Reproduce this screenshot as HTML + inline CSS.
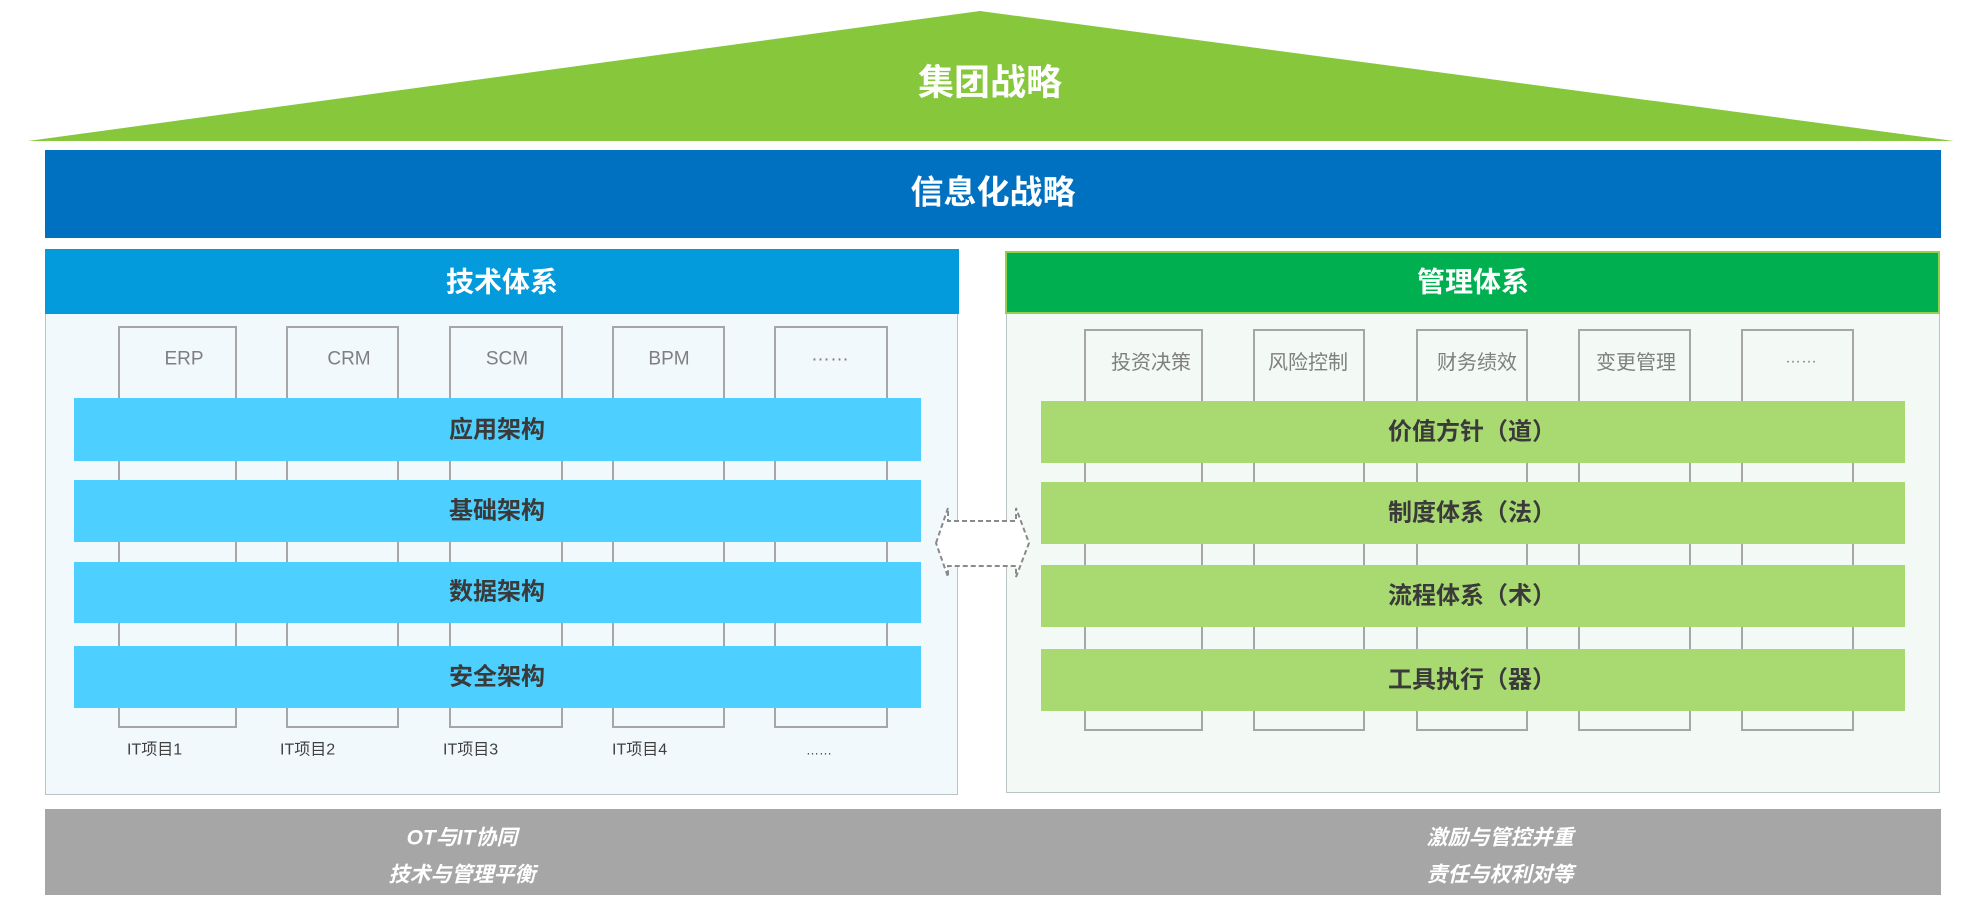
<!DOCTYPE html>
<html>
<head>
<meta charset="utf-8">
<style>
  html,body{margin:0;padding:0;background:#ffffff;}
  body{width:1965px;height:905px;overflow:hidden;}
  svg{display:block;}
  text{font-family:"Liberation Sans","Noto Sans CJK SC",sans-serif;}
</style>
</head>
<body>
<svg width="1965" height="905" viewBox="0 0 1965 905" xmlns="http://www.w3.org/2000/svg">
  <!-- roof triangle -->
  <polygon points="28,141 980,11 1954,141" fill="#86c73b"/>
  <text x="990" y="82" fill="#ffffff" font-size="36" font-weight="bold" text-anchor="middle" dominant-baseline="central">集团战略</text>

  <!-- blue bar -->
  <rect x="45" y="150" width="1896" height="88" fill="#0070c0"/>
  <text x="993" y="192" fill="#ffffff" font-size="33" font-weight="bold" text-anchor="middle" dominant-baseline="central">信息化战略</text>

  <!-- LEFT PANEL -->
  <rect x="45.5" y="249.5" width="912" height="545" fill="#f1f9fd" stroke="#bcc3c6" stroke-width="1"/>
  <rect x="45" y="249" width="914" height="65" fill="#039bdb"/>
  <text x="502" y="282" fill="#ffffff" font-size="28" font-weight="bold" text-anchor="middle" dominant-baseline="central">技术体系</text>

  <!-- left boxes -->
  <g fill="none" stroke="#a6a6a6" stroke-width="2">
    <rect x="119" y="327" width="117" height="400"/>
    <rect x="287" y="327" width="111" height="400"/>
    <rect x="450" y="327" width="112" height="400"/>
    <rect x="613" y="327" width="111" height="400"/>
    <rect x="775" y="327" width="112" height="400"/>
  </g>
  <g fill="#7f7f7f" font-size="19" text-anchor="middle" dominant-baseline="central">
    <text x="184" y="359">ERP</text>
    <text x="349" y="359">CRM</text>
    <text x="507" y="359">SCM</text>
    <text x="669" y="359">BPM</text>
    <text x="830" y="355">……</text>
  </g>

  <!-- left bars -->
  <g fill="#4dcfff">
    <rect x="74" y="398" width="847" height="63"/>
    <rect x="74" y="480" width="847" height="62"/>
    <rect x="74" y="562" width="847" height="61"/>
    <rect x="74" y="646" width="847" height="62"/>
  </g>
  <g fill="#3a3a3a" font-size="24" font-weight="bold" text-anchor="middle" dominant-baseline="central">
    <text x="497" y="430">应用架构</text>
    <text x="497" y="511">基础架构</text>
    <text x="497" y="592">数据架构</text>
    <text x="497" y="677">安全架构</text>
  </g>

  <!-- IT labels -->
  <g fill="#404040" font-size="16" dominant-baseline="central">
    <text x="127" y="750">IT项目1</text>
    <text x="280" y="750">IT项目2</text>
    <text x="443" y="750">IT项目3</text>
    <text x="612" y="750">IT项目4</text>
    <text x="806" y="750" font-size="13">……</text>
  </g>

  <!-- RIGHT PANEL -->
  <rect x="1006.5" y="251.5" width="933" height="541" fill="#f3f9f5" stroke="#bcc3c6" stroke-width="1"/>
  <rect x="1006" y="252" width="933" height="61" fill="#00b050" stroke="#92d050" stroke-width="2"/>
  <text x="1473" y="282" fill="#ffffff" font-size="28" font-weight="bold" text-anchor="middle" dominant-baseline="central">管理体系</text>

  <!-- right boxes -->
  <g fill="none" stroke="#a6a6a6" stroke-width="2">
    <rect x="1085" y="330" width="117" height="400"/>
    <rect x="1254" y="330" width="110" height="400"/>
    <rect x="1417" y="330" width="110" height="400"/>
    <rect x="1579" y="330" width="111" height="400"/>
    <rect x="1742" y="330" width="111" height="400"/>
  </g>
  <g fill="#7f7f7f" font-size="20" text-anchor="middle" dominant-baseline="central">
    <text x="1151" y="363">投资决策</text>
    <text x="1308" y="363">风险控制</text>
    <text x="1477" y="363">财务绩效</text>
    <text x="1636" y="363">变更管理</text>
    <text x="1801" y="358" font-size="16">……</text>
  </g>

  <!-- right bars -->
  <g fill="#a9da71">
    <rect x="1041" y="401" width="864" height="62"/>
    <rect x="1041" y="482" width="864" height="62"/>
    <rect x="1041" y="565" width="864" height="62"/>
    <rect x="1041" y="649" width="864" height="62"/>
  </g>
  <g fill="#3a3a3a" font-size="24" font-weight="bold" text-anchor="middle" dominant-baseline="central">
    <text x="1472" y="432">价值方针（道）</text>
    <text x="1472" y="513">制度体系（法）</text>
    <text x="1472" y="596">流程体系（术）</text>
    <text x="1472" y="680">工具执行（器）</text>
  </g>

  <!-- double arrow -->
  <polygon points="936,543 948,508 948,521 1016,521 1016,508 1029,543 1016,577 1016,566 948,566 948,577"
           fill="#ffffff" stroke="#8a8a8a" stroke-width="2" stroke-dasharray="5,3"/>

  <!-- bottom gray bar -->
  <rect x="45" y="809" width="1896" height="86" fill="#a6a6a6"/>
  <g fill="#ffffff" font-size="21" font-weight="bold" font-style="italic" text-anchor="middle" dominant-baseline="central">
    <text x="462" y="838">OT与IT协同</text>
    <text x="462" y="875">技术与管理平衡</text>
    <text x="1500" y="838">激励与管控并重</text>
    <text x="1500" y="875">责任与权利对等</text>
  </g>
</svg>
</body>
</html>
